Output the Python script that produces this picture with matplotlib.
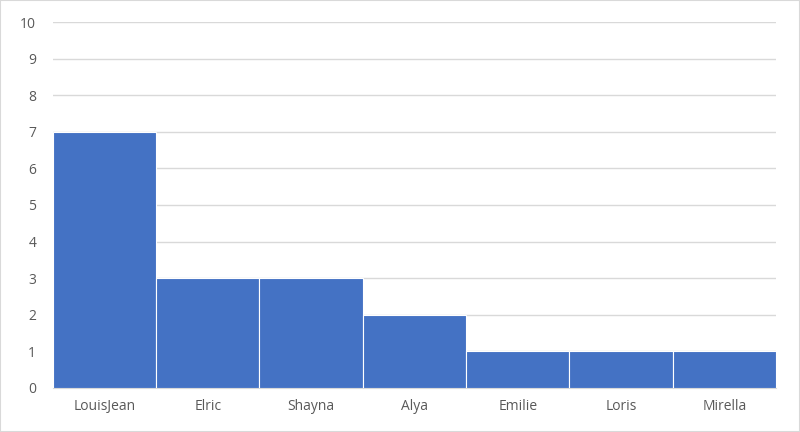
import matplotlib
matplotlib.use("Agg")
import matplotlib.pyplot as plt
from matplotlib.patches import Rectangle

names = ["LouisJean", "Elric", "Shayna", "Alya", "Emilie", "Loris", "Mirella"]
counts = [7, 3, 3, 2, 1, 1, 1]
yticks = list(range(0, 11))

plt.rcParams['font.family'] = ['Open Sans', 'DejaVu Sans']
fig = plt.figure(figsize=(8, 4.32), dpi=100)
fig.patches.append(Rectangle((0, 0), 1, 1, transform=fig.transFigure, fill=False,
                             edgecolor='#d9d9d9', linewidth=1.5))
ax = fig.add_axes([0.066, 0.102, 0.904, 0.847])
x = range(len(names))
ax.bar(x, counts, width=1.0, color='#4472C4', edgecolor='white', linewidth=0.8, zorder=3)
ax.set_xlim(-0.5, len(names) - 0.5)
ax.set_ylim(0, 10)
ax.set_yticks(yticks)
ax.set_xticks(list(x))
ax.set_xticklabels(names)
ax.grid(axis='y', color='#d9d9d9', linewidth=1, zorder=0)
for s in ['top', 'right', 'left']:
    ax.spines[s].set_visible(False)
ax.spines['bottom'].set_color('#d9d9d9')
ax.tick_params(length=0, colors='#595959', labelsize=10)
ax.tick_params(axis='x', pad=8)
ax.tick_params(axis='y', pad=12)
fig.savefig("out.png", dpi=100)
